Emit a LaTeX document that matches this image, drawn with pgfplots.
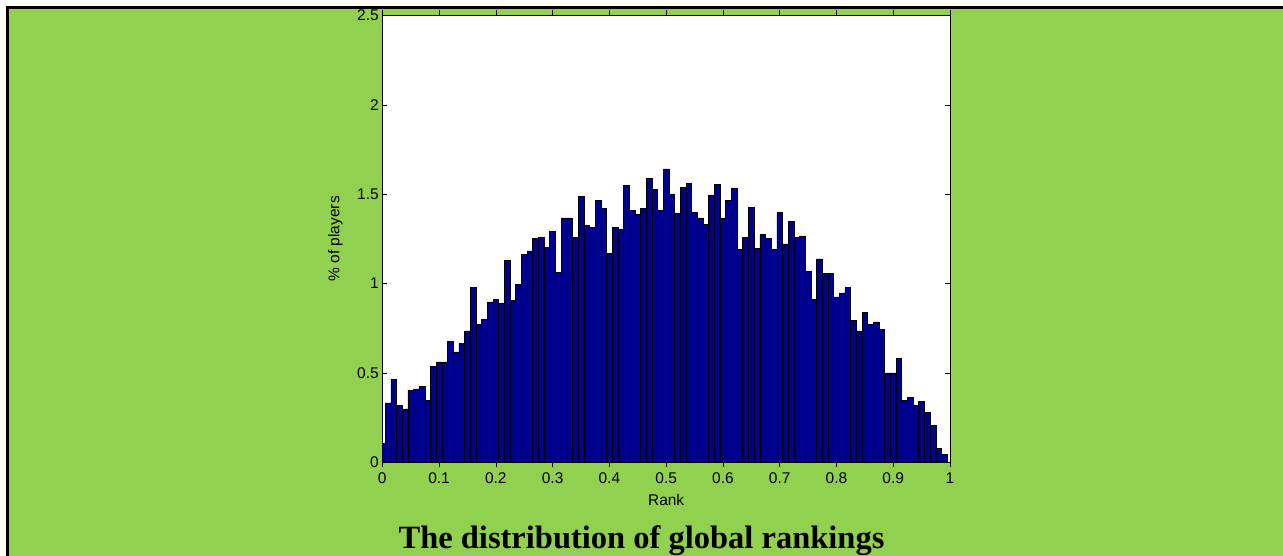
\documentclass[border=0pt]{standalone}
\usepackage{pgfplots}
\pgfplotsset{compat=1.18}
\usepackage{fontspec}
\setmainfont{Liberation Sans}
\newfontfamily\titlefont{Liberation Serif}
\definecolor{bggreen}{RGB}{146,208,80}
\definecolor{barblue}{RGB}{0,0,143}
\begin{document}
\begin{tikzpicture}
\useasboundingbox (0,0) rectangle (1283bp,556bp);
\fill[white] (0,0) rectangle (1283bp,556bp);
\fill[bggreen] (8.3bp,0) rectangle (1283bp,547.3bp);
\draw[black,line width=2.3bp] (7.6bp,0) -- (7.6bp,548.4bp) -- (1283bp,548.4bp);
\begin{axis}[
  at={(382.3bp,93.8bp)}, anchor=south west,
  scale only axis, width=567.7bp, height=446.7bp,
  xmin=0, xmax=1, ymin=0, ymax=2.5,
  xtick={0,0.1,...,1}, ytick={0,0.5,...,2.5},
  xticklabels={0,0.1,0.2,0.3,0.4,0.5,0.6,0.7,0.8,0.9,1},
  yticklabels={0,0.5,1,1.5,2,2.5},
  axis background/.style={fill=white},
  axis line style={black,line width=0.8bp},
  tick style={black,line width=0.6bp},
  tick align=inside, major tick length=5bp,
  /pgf/number format/assume math mode=true,
  tick label style={font=\fontsize{15.5bp}{18bp}\selectfont},
  label style={font=\fontsize{15.5bp}{18bp}\selectfont},
  xticklabel style={yshift=-2bp},
  yticklabel style={xshift=0bp},
  xlabel={Rank}, ylabel={\% of players},
  xlabel style={at={(axis description cs:0.5,0)}, anchor=base, yshift=-43.3bp},
  ylabel style={at={(axis description cs:0,0.5)}, anchor=center, xshift=0bp, yshift=47bp},
  ybar, bar width=0.01,
  clip=true,
]
\addplot[fill=barblue, draw=black, line width=0.6bp] coordinates {
(0,0.105) (0.01,0.332) (0.02,0.465) (0.03,0.32) (0.04,0.298) (0.05,0.404)
(0.06,0.41) (0.07,0.422) (0.08,0.347) (0.09,0.537) (0.10,0.561) (0.11,0.561)
(0.12,0.677) (0.13,0.617) (0.14,0.664) (0.15,0.735) (0.16,0.977) (0.17,0.772)
(0.18,0.80) (0.19,0.897) (0.20,0.912) (0.21,0.889) (0.22,1.131) (0.23,0.907)
(0.24,0.996) (0.25,1.165) (0.26,1.182) (0.27,1.252) (0.28,1.26) (0.29,1.202)
(0.30,1.292) (0.31,1.062) (0.32,1.367) (0.33,1.367) (0.34,1.26) (0.35,1.487)
(0.36,1.325) (0.37,1.312) (0.38,1.466) (0.39,1.42) (0.40,1.17) (0.41,1.312)
(0.42,1.304) (0.43,1.548) (0.44,1.407) (0.45,1.385) (0.46,1.422) (0.47,1.589)
(0.48,1.525) (0.49,1.407) (0.50,1.641) (0.51,1.502) (0.52,1.392) (0.53,1.539)
(0.54,1.56) (0.55,1.40) (0.56,1.367) (0.57,1.332) (0.58,1.496) (0.59,1.555)
(0.60,1.363) (0.61,1.465) (0.62,1.535) (0.63,1.189) (0.64,1.26) (0.65,1.428)
(0.66,1.195) (0.67,1.273) (0.68,1.252) (0.69,1.193) (0.70,1.398) (0.71,1.222)
(0.72,1.347) (0.73,1.26) (0.74,1.267) (0.75,1.07) (0.76,0.912) (0.77,1.138)
(0.78,1.055) (0.79,1.055) (0.80,0.925) (0.81,0.947) (0.82,0.977) (0.83,0.794)
(0.84,0.735) (0.85,0.837) (0.86,0.772) (0.87,0.785) (0.88,0.742) (0.89,0.50)
(0.90,0.50) (0.91,0.58) (0.92,0.347) (0.93,0.362) (0.94,0.32) (0.95,0.342)
(0.96,0.28) (0.97,0.208) (0.98,0.078) (0.99,0.044) (1.00,0.0)
};
\end{axis}
\node[anchor=base, font=\titlefont\bfseries\fontsize{32.5bp}{36bp}\selectfont] at (641.5bp,8bp) {The distribution of global rankings};
\end{tikzpicture}
\end{document}
